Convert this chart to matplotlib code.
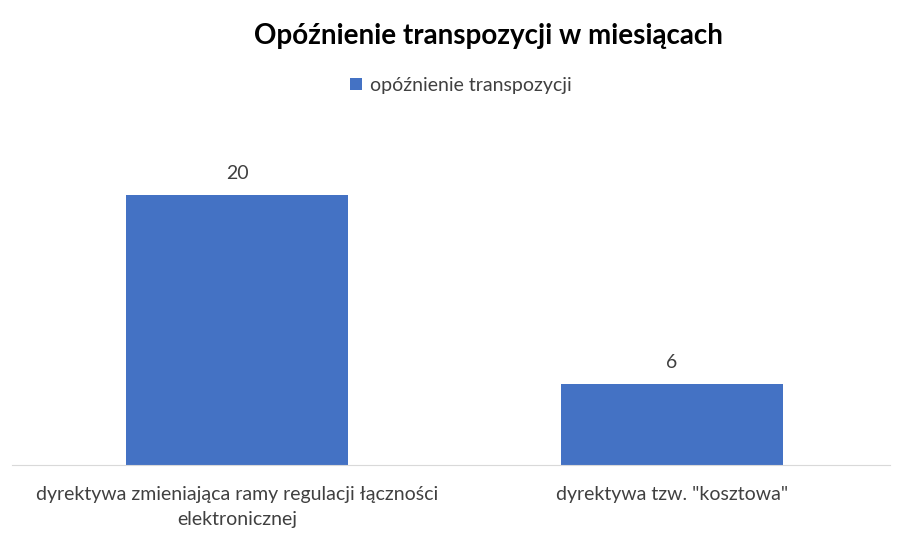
import matplotlib.pyplot as plt

categories = ["dyrektywa zmieniająca ramy regulacji łączności\nelektronicznej",
              "dyrektywa tzw. \"kosztowa\""]
values = [20, 6]
series_name = "opóźnienie transpozycji"

plt.rcParams['font.family'] = ['Lato', 'DejaVu Sans']

fig = plt.figure(figsize=(9.09, 5.36), dpi=100)
ax = fig.add_axes([0.0132, 0.1325, 0.966, 0.6297])

x = range(len(categories))
bars = ax.bar(x, values, width=0.51, color='#4472C4', label=series_name)
for b, v in zip(bars, values):
    ax.annotate(str(v), (b.get_x() + b.get_width() / 2, v), xytext=(0, 9),
                textcoords='offset points', ha='center', va='bottom',
                fontsize=14, color='#404040')

ax.set_xlim(-0.517, 1.501)
ax.set_ylim(0, 25)
ax.set_xticks(list(x))
ax.set_xticklabels(categories, fontsize=14, color='#404040', linespacing=1.55)
ax.tick_params(axis='x', length=0, pad=15)
ax.set_yticks([])
for s in ['top', 'right', 'left']:
    ax.spines[s].set_visible(False)
ax.spines['bottom'].set_color('#D9D9D9')

fig.text(0.537, 0.933, "Opóźnienie transpozycji w miesiącach", ha='center',
         va='center', fontsize=20, fontweight='bold', color='black')
fig.legend(loc='center', bbox_to_anchor=(0.507, 0.841), frameon=False,
           fontsize=14, handlelength=0.6, handleheight=0.6, handletextpad=0.4,
           labelcolor='#404040')

fig.savefig('out.png', dpi=100)
